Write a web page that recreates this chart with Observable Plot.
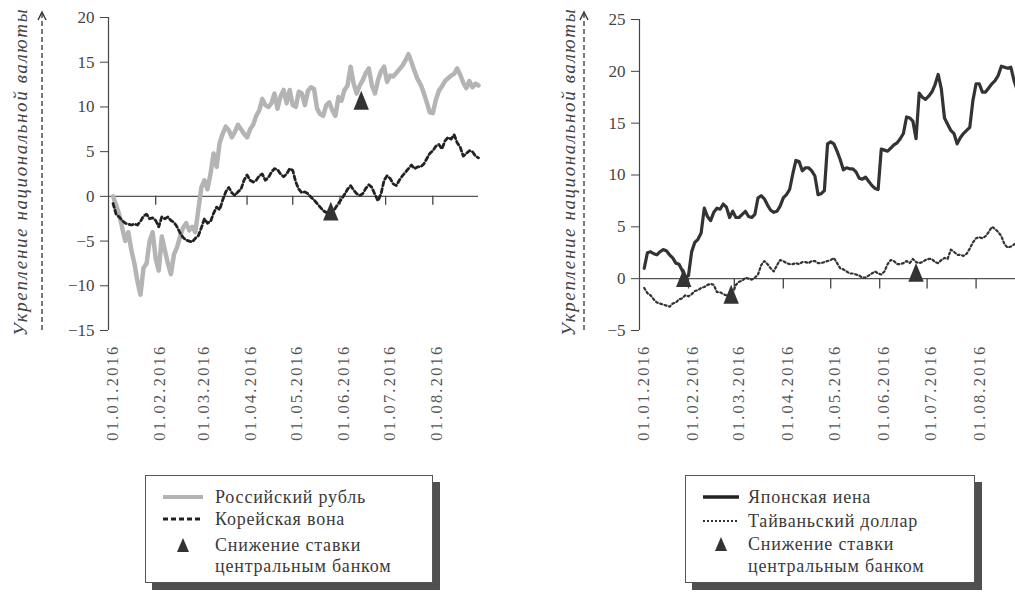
<!DOCTYPE html>
<html><head><meta charset="utf-8">
<script src="https://cdn.jsdelivr.net/npm/d3@7"></script>
<script src="https://cdn.jsdelivr.net/npm/@observablehq/plot@0.6"></script>
<style>
html,body{margin:0;padding:0;background:#fff;overflow:hidden;width:1015px;height:592px}
#root{position:relative;width:1015px;height:592px;font-family:"Liberation Serif","DejaVu Serif",serif;color:#3a3a3a;overflow:hidden}
.panel{position:absolute;top:0}
.legend{position:absolute;background:#fff;border:1px solid #555;box-shadow:7px 7px 0 #505050;font-size:18px;letter-spacing:0.8px;color:#3a3a3a}
.row{position:absolute;height:24px;display:flex;align-items:center;white-space:nowrap}
.sample{position:absolute;height:24px;display:flex;align-items:center}
</style></head><body><div id="root"></div>
<script>
// ---- data ----
const tickLabels = ["01.01.2016","01.02.2016","01.03.2016","01.04.2016","01.05.2016","01.06.2016","01.07.2016","01.08.2016"];
const xStart = "01.01.2016";
const xEnd = "31.08.2016";
const seriesStart = "04.01.2016";
const stepDays = 2;
const yTicksLeft = [-15,-10,-5,0,5,10,15,20];
const yTicksRight = [-5,0,5,10,15,20,25];

const rubleValues = [0,-1,-2,-3.5,-5,-4,-6,-7.5,-9.5,-11,
 -8,-7.5,-5,-4,-7,-8.3,-4.5,-6,-7.5,-8.7,
 -6.5,-5.7,-4.5,-3.5,-3,-3.8,-3.4,-4,-1.5,1,
 1.8,0.8,2.5,4.8,3.3,6,7,7.8,7.4,6.6,
 7.2,8,7.5,7,6.6,7.5,8,9,9.6,10.9,
 10.2,10,10.4,11.5,9.8,11.2,11.9,10.4,11.9,10.2,
 10,11.7,11.5,10.2,11.8,12.2,12,9.8,9.2,9,
 10.2,10.5,9.6,9,11.1,10.7,11.9,12.4,14.5,12.6,
 11.5,12.4,13,13.8,14.3,12.4,11.5,13,14,14.5,
 12.8,13.5,13.4,13.8,14.2,14.6,15.2,15.9,15,14,
 13.1,12.5,11.6,10.5,9.4,9.3,10.8,11.8,12.3,12.9,
 13.2,13.5,13.7,14.3,13.6,12.7,12.1,12.9,12.2,12.6,12.4];

const wonValues = [-0.8,-2.0,-2.3,-2.7,-3.0,-3.1,-3.2,-3.1,-3.2,-2.8,
 -2.2,-2.0,-2.5,-2.4,-2.7,-3.4,-2.3,-2.5,-2.3,-2.7,
 -2.9,-3.4,-4.1,-4.6,-4.9,-5.0,-5.1,-4.7,-4.4,-3.5,
 -2.5,-3.0,-2.8,-1.9,-1.2,-1.5,-0.4,0.5,1.0,0.4,
 0.1,0.5,0.8,1.8,2.4,1.8,1.6,1.8,2.3,2.5,
 1.8,2.1,2.7,3.1,3.0,2.5,2.2,2.5,3.1,2.9,
 1.6,0.8,0.4,0.5,0.3,-0.1,-0.4,-0.8,-1.2,-1.6,
 -1.8,-1.9,-1.9,-1.3,-0.8,-0.3,0.2,0.8,1.2,0.7,
 0.3,0.1,0.3,0.9,1.3,1.0,0.2,-0.5,0.3,1.8,
 2.3,2.0,1.4,1.2,1.8,2.3,2.7,3.1,3.5,3.1,
 3.3,3.3,3.6,4.2,4.8,5.1,5.6,5.8,5.3,6.2,
 6.6,6.4,6.9,6.0,5.5,4.5,4.8,5.1,5.0,4.5,4.3];

const yenValues = [1.0,2.5,2.6,2.4,2.3,2.6,2.8,2.7,2.3,2.0,
 1.5,1.4,0.8,0.1,0.3,2.6,3.5,3.8,4.4,6.8,
 6.0,5.6,6.4,6.8,6.7,7.2,6.9,5.9,6.5,5.9,
 5.9,6.2,6.5,6.0,5.9,6.2,7.8,8.0,7.7,7.1,
 6.6,6.4,6.5,7.0,7.8,8.1,8.6,10.1,11.4,11.3,
 10.4,10.7,10.7,10.4,9.9,8.1,8.2,8.5,13.0,13.2,
 13.0,12.3,11.5,10.5,10.7,10.6,10.6,10.3,9.7,9.6,
 9.8,9.4,9.0,8.7,8.6,12.5,12.4,12.3,12.6,12.9,
 13.1,13.5,14.0,15.6,15.5,15.2,13.5,17.9,17.5,17.3,
 17.6,18.0,18.7,19.7,18.3,15.5,14.9,14.3,14.0,13.0,
 13.6,14.0,14.3,14.6,17.2,18.8,18.8,18.0,18.0,18.4,
 18.8,19.1,19.6,20.5,20.4,20.3,20.4,19.1,18.2];

const taiwanValues = [-0.9,-1.4,-1.6,-2.0,-2.3,-2.4,-2.5,-2.6,-2.7,-2.4,
 -2.3,-2.0,-1.9,-1.6,-1.7,-1.5,-1.2,-1.1,-0.9,-0.8,
 -0.6,-0.5,-0.6,-1.3,-1.3,-1.5,-1.6,-1.7,-1.4,-0.6,
 -0.3,-0.2,0.1,0.0,-0.1,0.1,0.4,1.3,1.7,1.4,
 1.0,0.7,1.3,1.8,1.7,1.5,1.4,1.4,1.5,1.4,
 1.6,1.6,1.5,1.7,1.7,1.5,1.5,1.6,1.7,1.8,
 2.0,1.5,1.0,0.9,0.7,0.5,0.5,0.4,0.3,0.1,
 0.1,0.3,0.5,0.7,0.5,0.4,0.7,1.4,1.8,1.7,
 1.4,1.4,1.5,1.7,1.5,1.9,1.6,1.5,1.6,1.8,
 1.9,1.9,1.6,1.5,1.8,2.0,1.9,2.8,2.6,2.3,
 2.3,2.2,2.4,2.9,3.5,3.9,4.0,3.9,4.1,4.5,
 5.0,4.8,4.5,4.1,3.3,3.0,3.1,3.3,3.5];

const leftCutDates = ["26.05.2016","15.06.2016"];
const leftCutValues = [-2.0,10.4];
const rightCutDates = ["29.01.2016","28.02.2016","24.06.2016"];
const rightCutValues = [-0.2,-1.8,0.3];

const yLabel = "Укрепление национальной валюты";
const leftLegend = ["Российский рубль","Корейская вона","Снижение ставки","центральным банком"];
const rightLegend = ["Японская иена","Тайваньский доллар","Снижение ставки","центральным банком"];

// ---- helpers ----
const parse = d3.utcParse("%d.%m.%Y");
const fmt = d3.utcFormat("%d.%m.%Y");
const tickDates = tickLabels.map(parse);
const toSeries = vals => vals.map((v,i) => ({date: d3.utcDay.offset(parse(seriesStart), i*stepDays), value: v}));
const toCuts = (ds, vs) => ds.map((d,i) => ({date: parse(d), value: vs[i]}));
const minus = d => d < 0 ? "\u2212" + Math.abs(d) : String(d);

const cutSymbol = {draw(ctx, size){
  const r = Math.sqrt(size/Math.PI);
  ctx.moveTo(0, -1.8*r); ctx.lineTo(1.1*r, 0.9*r); ctx.lineTo(-1.1*r, 0.9*r); ctx.closePath();
}};

const FONT = "'Liberation Serif', 'DejaVu Serif', serif";

function panel({lines, cuts, yTicks, width, marginLeft, marginRight, marginTop, tickLen}) {
  const svg = Plot.plot({
    width, height: 460, marginLeft, marginRight, marginTop, marginBottom: 130,
    style: {fontFamily: FONT, fontSize: "17px", color: "#444", background: "transparent", maxWidth: "none", overflow: "visible"},
    x: {type: "utc", domain: [parse(xStart), parse(xEnd)]},
    y: {domain: [yTicks[0], yTicks[yTicks.length-1]]},
    marks: [
      Plot.axisY({ticks: yTicks, tickSize: 8, tickPadding: 6, tickFormat: minus, label: null, stroke: "#444", fontSize: 17}),
      Plot.axisX({ticks: tickDates, tickFormat: fmt, tickRotate: -90, tickSize: 0, tickPadding: 14, label: null, fontSize: 16.5, fill: "#555", dx: 4}),
      Plot.ruleX([parse(xStart)], {y1: yTicks[0], y2: yTicks[yTicks.length-1], stroke: "#444", strokeWidth: 1.2}),
      Plot.ruleY([0], {stroke: "#555", strokeWidth: 1.3}),
      Plot.ruleX(tickDates.slice(1), {y1: 0, y2: -tickLen, stroke: "#444", strokeWidth: 1.3}),
      ...lines,
      Plot.dot(cuts, {x: "date", y: "value", symbol: cutSymbol, r: 7, fill: "#333", stroke: null})
    ]
  });
  // widen the rotated date labels like the printed original
  d3.select(svg).selectAll("g[aria-label='x-axis tick label'] text").attr("letter-spacing", 2.2);
  return svg;
}

const root = document.getElementById("root");

const left = panel({
  lines: [
    Plot.lineY(toSeries(rubleValues), {x: "date", y: "value", stroke: "#b4b4b4", strokeWidth: 4.5, strokeLinejoin: "round"}),
    Plot.lineY(toSeries(wonValues), {x: "date", y: "value", stroke: "#222", strokeWidth: 2.8, strokeDasharray: "4,3"})
  ],
  cuts: toCuts(leftCutDates, leftCutValues), yTicks: yTicksLeft,
  width: 500, marginLeft: 108, marginRight: 22, marginTop: 17, tickLen: 1
});
left.classList.add("panel"); left.style.left = "0px";
root.appendChild(left);

const right = panel({
  lines: [
    Plot.lineY(toSeries(taiwanValues), {x: "date", y: "value", stroke: "#333", strokeWidth: 2.2, strokeDasharray: "2,2.6"}),
    Plot.lineY(toSeries(yenValues), {x: "date", y: "value", stroke: "#333", strokeWidth: 3.2, strokeLinejoin: "round"})
  ],
  cuts: toCuts(rightCutDates, rightCutValues), yTicks: yTicksRight,
  width: 493, marginLeft: 109, marginRight: 0, marginTop: 19, tickLen: 1
});
right.classList.add("panel"); right.style.left = "530px";
root.appendChild(right);

// ---- y-axis titles with dashed arrows ----
const over = d3.select(root).append("svg").attr("width", 1015).attr("height", 592)
  .style("position", "absolute").style("left", 0).style("top", 0).style("pointer-events", "none");
for (const [tx, ax] of [[20, 42], [568, 584]]) {
  over.append("text").attr("transform", `translate(${tx},172) rotate(-90)`)
    .attr("text-anchor", "middle").attr("dy", "0.35em")
    .attr("font-family", FONT).attr("font-style", "italic").attr("font-size", 19)
    .attr("letter-spacing", 1.6).attr("fill", "#444").text(yLabel);
  over.append("line").attr("x1", ax).attr("x2", ax).attr("y1", 330).attr("y2", 14)
    .attr("stroke", "#333").attr("stroke-width", 1.3).attr("stroke-dasharray", "5,3");
  over.append("path").attr("d", `M${ax-4},20 L${ax},12 L${ax+4},20`).attr("fill", "none")
    .attr("stroke", "#333").attr("stroke-width", 1.4);
}

// ---- legends ----
function sampleSvg(kind, w) {
  if (kind === "tri") return `<svg width="${w}" height="16"><path d="M${w/2},1 L${w/2+6},15 L${w/2-6},15 Z" fill="#333"/></svg>`;
  const styles = {
    ruble: 'stroke="#b4b4b4" stroke-width="4"',
    won: 'stroke="#222" stroke-width="2.8" stroke-dasharray="5,3"',
    yen: 'stroke="#222" stroke-width="3.4"',
    taiwan: 'stroke="#333" stroke-width="2.2" stroke-dasharray="2,2"'
  };
  return `<svg width="${w}" height="8"><line x1="0" x2="${w}" y1="4" y2="4" ${styles[kind]}/></svg>`;
}
function legend({left, top, width, height, kinds, labels, sampleLeft, sampleW, textLeft, rows}) {
  const box = document.createElement("div");
  box.className = "legend";
  Object.assign(box.style, {left: left+"px", top: top+"px", width: width+"px", height: height+"px"});
  let html = "";
  labels.forEach((lab, i) => {
    const kind = kinds[i];
    if (kind) html += `<div class="sample" style="left:${sampleLeft}px;top:${rows[i]}px">${sampleSvg(kind, sampleW)}</div>`;
    html += `<div class="row" style="left:${textLeft}px;top:${rows[i]}px">${lab}</div>`;
  });
  box.innerHTML = html;
  root.appendChild(box);
}
legend({left: 145, top: 475, width: 286, height: 106, kinds: ["ruble","won","tri",null], labels: leftLegend,
  sampleLeft: 17, sampleW: 40, textLeft: 69, rows: [9, 31, 57, 78]});
legend({left: 685, top: 475, width: 288, height: 106, kinds: ["yen","taiwan","tri",null], labels: rightLegend,
  sampleLeft: 17, sampleW: 36, textLeft: 62, rows: [9, 33, 56, 78]});
</script></body></html>
